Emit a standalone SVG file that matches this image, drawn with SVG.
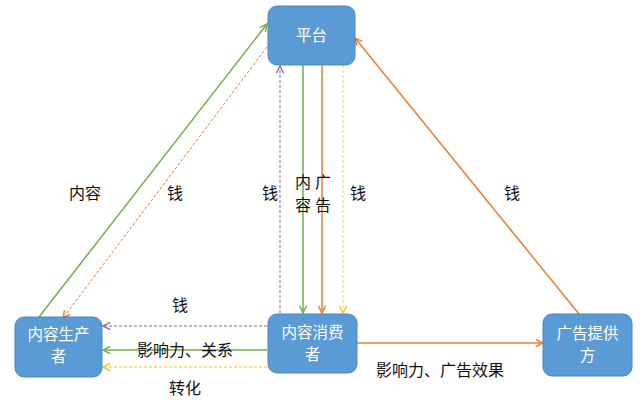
<svg xmlns="http://www.w3.org/2000/svg" width="640" height="400" viewBox="0 0 640 400">
<defs>
<style>
.box{fill:#5B9BD5;stroke:#4A86C3;stroke-width:1}
.bt{font-family:"Noto Sans CJK SC","Noto Sans",sans-serif;font-size:15.5px;fill:#fff;text-anchor:middle}
.lb{font-family:"Noto Sans CJK SC","Noto Sans",sans-serif;font-size:16px;fill:#111;text-anchor:middle}
.g{stroke:#70AD47;stroke-width:1.5;fill:none}
.o{stroke:#ED7D31;stroke-width:1.5;fill:none}
.od{stroke:#ED7D31;stroke-width:1;fill:none;stroke-dasharray:3 2}
.pd{stroke:#8064A2;stroke-width:1;fill:none;stroke-dasharray:3 2}
.yd{stroke:#FFC000;stroke-width:1;fill:none;stroke-dasharray:3 2}
.yl{stroke:#F5D36A;stroke-width:1;fill:none;stroke-dasharray:3 2}
</style>
<marker id="ag" viewBox="0 0 10 10" refX="9" refY="5" markerWidth="9" markerHeight="9" markerUnits="userSpaceOnUse" orient="auto"><path d="M1,1 L9,5 L1,9" fill="none" stroke="#70AD47" stroke-width="1.6"/></marker>
<marker id="ao" viewBox="0 0 10 10" refX="9" refY="5" markerWidth="9" markerHeight="9" markerUnits="userSpaceOnUse" orient="auto"><path d="M1,1 L9,5 L1,9" fill="none" stroke="#ED7D31" stroke-width="1.6"/></marker>
<marker id="ap" viewBox="0 0 10 10" refX="9" refY="5" markerWidth="9" markerHeight="9" markerUnits="userSpaceOnUse" orient="auto"><path d="M1,1 L9,5 L1,9" fill="none" stroke="#8064A2" stroke-width="1.4"/></marker>
<marker id="ay" viewBox="0 0 10 10" refX="9" refY="5" markerWidth="9" markerHeight="9" markerUnits="userSpaceOnUse" orient="auto"><path d="M1,1 L9,5 L1,9" fill="none" stroke="#FFC000" stroke-width="1.4"/></marker>
</defs>
<rect width="640" height="400" fill="#fff"/>
<g id="connectors">
<line class="g" x1="39" y1="317" x2="267" y2="24" marker-end="url(#ag)"/>
<line class="od" x1="267" y1="47" x2="63" y2="318" marker-end="url(#ao)"/>
<line class="pd" x1="280" y1="313" x2="280" y2="66" marker-end="url(#ap)"/>
<line class="g" x1="303" y1="65" x2="303" y2="313" marker-end="url(#ag)"/>
<line class="o" x1="322" y1="65" x2="322" y2="313" marker-end="url(#ao)"/>
<line class="yl" x1="343" y1="65" x2="343" y2="313" marker-end="url(#ay)"/>
<line class="o" x1="579" y1="314" x2="355" y2="38" marker-end="url(#ao)"/>
<line class="o" x1="357" y1="343" x2="543" y2="343" marker-end="url(#ao)"/>
<line class="pd" x1="267" y1="326" x2="103" y2="326" marker-end="url(#ap)"/>
<line class="g" x1="267" y1="350" x2="103" y2="350" marker-end="url(#ag)"/>
<line class="yd" x1="267" y1="367" x2="103" y2="367" marker-end="url(#ay)"/>
<text class="lb" x="85" y="199">内容</text>
<text class="lb" x="175" y="199">钱</text>
<text class="lb" x="270" y="199">钱</text>
<text class="lb" x="303" y="188">内</text>
<text class="lb" x="303" y="211">容</text>
<text class="lb" x="323" y="188">广</text>
<text class="lb" x="323" y="211">告</text>
<text class="lb" x="358" y="199">钱</text>
<text class="lb" x="512" y="199">钱</text>
<text class="lb" x="180" y="311">钱</text>
<text class="lb" x="185" y="356">影响力、关系</text>
<text class="lb" x="185" y="394">转化</text>
<text class="lb" x="440" y="376">影响力、广告效果</text>
</g>
<g id="platform">
<rect class="box" x="268" y="6" width="87" height="59" rx="9"/>
<text class="bt" x="311.5" y="41">平台</text>
</g>
<g id="consumer">
<rect class="box" x="268" y="314" width="89" height="59" rx="9"/>
<text class="bt" x="312.5" y="338">内容消费</text>
<text class="bt" x="312.5" y="360">者</text>
</g>
<g id="producer">
<rect class="box" x="15" y="317" width="87" height="60" rx="9"/>
<text class="bt" x="58.5" y="340">内容生产</text>
<text class="bt" x="58.5" y="362">者</text>
</g>
<g id="advertiser">
<rect class="box" x="543" y="314" width="89" height="62" rx="9"/>
<text class="bt" x="587.5" y="339">广告提供</text>
<text class="bt" x="587.5" y="361">方</text>
</g>
</svg>
